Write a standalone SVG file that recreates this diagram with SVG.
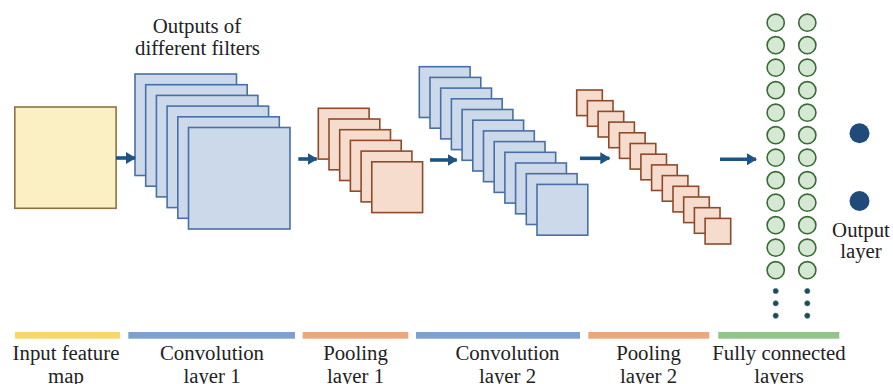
<svg xmlns="http://www.w3.org/2000/svg" width="893" height="384" viewBox="0 0 893 384">
  <style>
    .txt { font-family: "Liberation Serif", "Times New Roman", serif; font-size: 20.8px; fill: #222; text-anchor: middle; }
    .input { fill: #FAF0C4; stroke: #8C7442; stroke-width: 1.6; }
    .conv { fill: #CCD9EA; stroke: #4A6FA6; stroke-width: 1.6; }
    .pool { fill: #F6DCCC; stroke: #8E4B2C; stroke-width: 1.6; }
    .neuron { fill: #D5E8D4; stroke: #3A6A35; stroke-width: 1.6; }
    .dot { fill: #234A3C; stroke: #4A72A8; stroke-width: 0.8; }
    .out { fill: #1F4A7A; }
    .arrow { stroke: #1F5482; stroke-width: 3.6; fill: none; }
  </style>
  <defs>
    <marker id="head" markerUnits="userSpaceOnUse" markerWidth="10" markerHeight="12" refX="9" refY="6" orient="auto">
      <path d="M0,0 L10,6 L0,12 Z" fill="#1F5482"/>
    </marker>
    <rect id="big" width="101.5" height="101.5"/>
    <rect id="mid" width="50.8" height="50.8"/>
    <rect id="small" width="25.6" height="25.6"/>
    <circle id="n" r="8.6"/>
  </defs>

  <rect width="893" height="384" fill="#FFFFFF"/>

  <!-- input feature map -->
  <g id="input-map">
    <rect class="input" x="14.8" y="107" width="101.3" height="101.3"/>
  </g>

  <!-- convolution layer 1: six feature maps -->
  <g id="conv1" class="conv">
    <use href="#big" x="135" y="74"/>
    <use href="#big" x="145.7" y="84.7"/>
    <use href="#big" x="156.4" y="95.4"/>
    <use href="#big" x="167.1" y="106.1"/>
    <use href="#big" x="177.8" y="116.8"/>
    <use href="#big" x="188.5" y="127.5"/>
  </g>

  <!-- pooling layer 1 -->
  <g id="pool1" class="pool">
    <use href="#mid" x="318.3" y="108.3"/>
    <use href="#mid" x="329" y="119"/>
    <use href="#mid" x="339.7" y="129.7"/>
    <use href="#mid" x="350.4" y="140.4"/>
    <use href="#mid" x="361.1" y="151.1"/>
    <use href="#mid" x="371.8" y="161.8"/>
  </g>

  <!-- convolution layer 2: twelve feature maps -->
  <g id="conv2" class="conv">
    <use href="#mid" x="419.3" y="66.7"/>
    <use href="#mid" x="430" y="77.4"/>
    <use href="#mid" x="440.7" y="88.1"/>
    <use href="#mid" x="451.4" y="98.8"/>
    <use href="#mid" x="462.1" y="109.5"/>
    <use href="#mid" x="472.8" y="120.2"/>
    <use href="#mid" x="483.5" y="130.9"/>
    <use href="#mid" x="494.2" y="141.6"/>
    <use href="#mid" x="504.9" y="152.3"/>
    <use href="#mid" x="515.6" y="163"/>
    <use href="#mid" x="526.3" y="173.7"/>
    <use href="#mid" x="537" y="184.4"/>
  </g>

  <!-- pooling layer 2: thirteen maps -->
  <g id="pool2" class="pool">
    <use href="#small" x="576.7" y="90"/>
    <use href="#small" x="587.4" y="100.7"/>
    <use href="#small" x="598.1" y="111.4"/>
    <use href="#small" x="608.8" y="122.1"/>
    <use href="#small" x="619.5" y="132.8"/>
    <use href="#small" x="630.2" y="143.5"/>
    <use href="#small" x="640.9" y="154.2"/>
    <use href="#small" x="651.6" y="164.9"/>
    <use href="#small" x="662.3" y="175.6"/>
    <use href="#small" x="673" y="186.3"/>
    <use href="#small" x="683.7" y="197"/>
    <use href="#small" x="694.4" y="207.7"/>
    <use href="#small" x="705.1" y="218.4"/>
  </g>

  <!-- fully connected layers: two columns of neurons -->
  <g id="fc1" class="neuron">
    <use href="#n" x="775.7" y="22.7"/>
    <use href="#n" x="775.7" y="45.2"/>
    <use href="#n" x="775.7" y="67.7"/>
    <use href="#n" x="775.7" y="90.2"/>
    <use href="#n" x="775.7" y="112.7"/>
    <use href="#n" x="775.7" y="135.2"/>
    <use href="#n" x="775.7" y="157.7"/>
    <use href="#n" x="775.7" y="180.2"/>
    <use href="#n" x="775.7" y="202.7"/>
    <use href="#n" x="775.7" y="225.2"/>
    <use href="#n" x="775.7" y="247.7"/>
    <use href="#n" x="775.7" y="270.2"/>
  </g>
  <g id="fc1-more">
    <circle class="dot" cx="775.7" cy="291" r="2.6"/>
    <circle class="dot" cx="775.7" cy="303.3" r="2.6"/>
    <circle class="dot" cx="775.7" cy="315.7" r="2.6"/>
  </g>
  <g id="fc2" class="neuron">
    <use href="#n" x="807.3" y="22.7"/>
    <use href="#n" x="807.3" y="45.2"/>
    <use href="#n" x="807.3" y="67.7"/>
    <use href="#n" x="807.3" y="90.2"/>
    <use href="#n" x="807.3" y="112.7"/>
    <use href="#n" x="807.3" y="135.2"/>
    <use href="#n" x="807.3" y="157.7"/>
    <use href="#n" x="807.3" y="180.2"/>
    <use href="#n" x="807.3" y="202.7"/>
    <use href="#n" x="807.3" y="225.2"/>
    <use href="#n" x="807.3" y="247.7"/>
    <use href="#n" x="807.3" y="270.2"/>
  </g>
  <g id="fc2-more">
    <circle class="dot" cx="807.3" cy="291" r="2.6"/>
    <circle class="dot" cx="807.3" cy="303.3" r="2.6"/>
    <circle class="dot" cx="807.3" cy="315.7" r="2.6"/>
  </g>

  <!-- output layer -->
  <g id="output-layer">
    <circle class="out" cx="859.5" cy="133.3" r="10"/>
    <circle class="out" cx="859.5" cy="201" r="10"/>
    <text class="txt" x="861" y="237">Output</text>
    <text class="txt" x="861" y="258">layer</text>
  </g>

  <!-- connectors between stages -->
  <g id="connectors">
    <line class="arrow" x1="116" y1="158" x2="135" y2="158" marker-end="url(#head)"/>
    <line class="arrow" x1="298.3" y1="159" x2="316.7" y2="159" marker-end="url(#head)"/>
    <line class="arrow" x1="430" y1="160" x2="456.7" y2="160" marker-end="url(#head)"/>
    <line class="arrow" x1="580" y1="158.3" x2="609.3" y2="158.3" marker-end="url(#head)"/>
    <line class="arrow" x1="720" y1="159.3" x2="756" y2="159.3" marker-end="url(#head)"/>
  </g>

  <!-- caption over convolution layer 1 -->
  <g id="filters-caption">
    <text class="txt" x="197" y="32.5">Outputs of</text>
    <text class="txt" x="197.5" y="54.5">different filters</text>
  </g>

  <!-- stage bars and labels -->
  <g id="stage-input">
    <rect x="15" y="332" width="105" height="6.7" fill="#F9D56B"/>
    <text class="txt" x="66" y="360">Input feature</text>
    <text class="txt" x="66" y="383">map</text>
  </g>
  <g id="stage-conv1">
    <rect x="128.3" y="332" width="166.7" height="6.7" fill="#7F9FD0"/>
    <text class="txt" x="212" y="360">Convolution</text>
    <text class="txt" x="212" y="383">layer 1</text>
  </g>
  <g id="stage-pool1">
    <rect x="302.7" y="332" width="105.6" height="6.7" fill="#EBA77D"/>
    <text class="txt" x="355.5" y="360">Pooling</text>
    <text class="txt" x="355.5" y="383">layer 1</text>
  </g>
  <g id="stage-conv2">
    <rect x="416" y="332" width="164" height="6.7" fill="#7F9FD0"/>
    <text class="txt" x="507.5" y="360">Convolution</text>
    <text class="txt" x="507.5" y="383">layer 2</text>
  </g>
  <g id="stage-pool2">
    <rect x="588.3" y="332" width="121" height="6.7" fill="#EBA77D"/>
    <text class="txt" x="648.5" y="360">Pooling</text>
    <text class="txt" x="648.5" y="383">layer 2</text>
  </g>
  <g id="stage-fc">
    <rect x="718.3" y="332" width="121" height="6.7" fill="#93C48B"/>
    <text class="txt" x="779" y="360">Fully connected</text>
    <text class="txt" x="779" y="383">layers</text>
  </g>
</svg>
